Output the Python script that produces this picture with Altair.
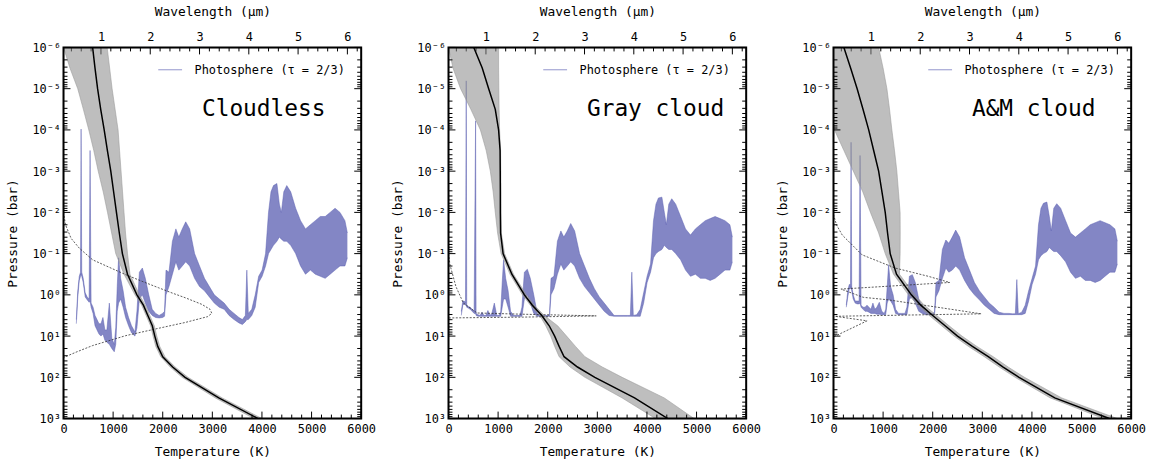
import altair as alt
import pandas as pd

FONT = "DejaVu Sans Mono"
BLUE = "#5a5eb2"
W, H = 300, 374
LABEL = "Photosphere (τ = 2/3)"
TITLES = ["Cloudless", "Gray cloud", "A&M cloud"]

# ---- axis ticks -------------------------------------------------------
T_MAJOR = [0, 1000, 2000, 3000, 4000, 5000, 6000]
T_MINOR = [t for t in range(200, 6000, 200) if t % 1000]
WL_MAJOR = [1, 2, 3, 4, 5, 6]
WL_MINOR = [0.4, 0.6, 0.8, 1.2, 1.4, 1.6, 1.8, 2.2, 2.4, 2.6, 2.8, 3.2, 3.4, 3.6, 3.8,
            4.2, 4.4, 4.6, 4.8, 5.2, 5.4, 5.6, 5.8, 6.2]
P_MAJOR = [1e-6, 1e-5, 1e-4, 1e-3, 1e-2, 1e-1, 1e0, 1e1, 1e2, 1e3]
P_MINOR = [m * 10.0 ** e for e in range(-6, 3) for m in range(2, 10)]
WL_DOMAIN = [0.24, 6.28]

# ---- temperature-pressure profiles (log10 pressure grid, T in K) -------
P_EXP = [-6, -5.5, -5, -4.5, -4, -3.5, -3, -2.5, -2, -1.5, -1, -0.5,
         0, 0.25, 0.5, 0.75, 1.0, 1.25, 1.5, 1.75, 2.0, 2.5, 3.0]

MED_1 = [587, 635, 687, 750, 820, 885, 953, 1010, 1067, 1125, 1187, 1290,
         1480, 1610, 1700, 1790, 1840, 1900, 2000, 2200, 2450, 3130, 3920]
LO_1 = [0, 130, 287, 400, 510, 610, 700, 800, 887, 970, 1053, 1220,
        1440, 1575, 1665, 1755, 1805, 1860, 1960, 2150, 2390, 3060, 3840]
HI_1 = [880, 930, 980, 1040, 1100, 1130, 1160, 1190, 1220, 1250, 1290, 1340,
        1530, 1650, 1740, 1830, 1880, 1940, 2045, 2250, 2510, 3200, 4000]

MED_2 = [510, 680, 810, 943, 1010, 1040, 1043, 1045, 1045, 1050, 1100, 1277,
         1530, 1690, 1880, 2030, 2140, 2230, 2330, 2600, 2950, 3750, 4420]
LO_2 = [0, 90, 243, 450, 643, 760, 843, 900, 943, 990, 1060, 1240,
        1490, 1650, 1840, 1960, 2060, 2140, 2230, 2450, 2750, 3500, 4170]
HI_2 = [1010, 1010, 1015, 1020, 1030, 1050, 1055, 1058, 1060, 1065, 1130, 1310,
        1570, 1730, 1930, 2200, 2380, 2560, 2750, 3100, 3500, 4350, 4950]

MED_3 = [210, 345, 477, 595, 710, 810, 910, 977, 1043, 1090, 1143, 1270,
         1570, 1760, 2000, 2250, 2500, 2800, 3120, 3420, 3740, 4460, 5560]
LO_3 = [0, 0, 0, 0, 20, 210, 400, 590, 745, 910, 1043, 1210,
        1510, 1700, 1930, 2180, 2430, 2720, 3040, 3340, 3660, 4370, 5440]
HI_3 = [910, 1000, 1077, 1130, 1177, 1230, 1277, 1310, 1343, 1345, 1343, 1330,
        1640, 1830, 2080, 2330, 2590, 2890, 3220, 3520, 3850, 4600, 5720]

# ---- dotted cloud curves: (T [K], log10 P) in drawing order -----------
DASH_1 = [(0, -2.0), (40, -1.7), (153, -1.37), (320, -1.13), (587, -0.85), (900, -0.68),
          (1253, -0.49), (1600, -0.32), (1920, -0.17), (2200, -0.04), (2453, 0.07),
          (2787, 0.23), (2953, 0.35), (2990, 0.45), (2900, 0.53), (2453, 0.67),
          (1920, 0.81), (1253, 0.99), (587, 1.23), (253, 1.39), (0, 1.52)]
DASH_2 = [(0, -1.0), (30, -0.73), (150, -0.2), (300, 0.2), (577, 0.44), (1500, 0.47),
          (2977, 0.51), (1500, 0.54), (0, 0.56)]
DASH_3 = [(0, -1.95), (60, -1.7), (177, -1.45), (577, -0.97), (1243, -0.65), (1910, -0.45),
          (2343, -0.30), (150, -0.14), (600, 0.06), (1100, 0.12), (2977, 0.46), (30, 0.52),
          (677, 0.63), (0, 1.02)]

# ---- photosphere: (wavelength [um], upper log10 P, lower log10 P) ------
BLUE_1 = [
    (0.50, 0.60, 0.70), (0.53, -0.10, 0.05), (0.56, -0.45, -0.35), (0.585, -0.55, -0.45),
    (0.597, -4.02, -0.50), (0.61, -0.55, -0.45), (0.64, -0.40, -0.30), (0.68, -0.05, 0.05),
    (0.72, 0.05, 0.12), (0.76, 0.10, 0.18), (0.779, -3.50, 0.15), (0.80, 0.20, 0.30),
    (0.84, 0.30, 0.45), (0.88, 0.50, 0.75), (0.92, 0.60, 0.85), (0.96, 0.70, 0.95),
    (1.00, 0.70, 1.00), (1.04, 0.55, 0.95), (1.08, 0.85, 1.10), (1.12, 0.85, 1.15),
    (1.17, 0.20, 1.20), (1.22, 1.05, 1.30), (1.27, 1.20, 1.38), (1.30, 0.80, 1.20),
    (1.33, -0.20, 0.40), (1.358, -0.90, 0.20), (1.40, -0.40, 0.10), (1.45, -0.10, 0.30),
    (1.50, 0.30, 0.55), (1.56, 0.55, 0.75), (1.62, 0.75, 0.92), (1.69, 0.90, 1.00),
    (1.73, 0.40, 0.80), (1.78, -0.55, 0.10), (1.84, -0.65, 0.00), (1.90, -0.40, 0.20),
    (1.97, 0.00, 0.40), (2.04, 0.35, 0.50), (2.11, 0.45, 0.55), (2.18, 0.50, 0.56),
    (2.25, 0.45, 0.55), (2.29, 0.40, 0.52), (2.32, -0.60, 0.00), (2.38, -0.55, -0.20),
    (2.45, -1.30, -0.50), (2.52, -1.60, -0.80), (2.58, -1.40, -0.60), (2.65, -1.60, -0.70),
    (2.72, -1.77, -0.80), (2.80, -1.60, -0.70), (2.90, -1.00, -0.40), (3.00, -0.70, -0.20),
    (3.10, -0.40, -0.10), (3.20, -0.20, 0.05), (3.30, 0.00, 0.20), (3.40, 0.10, 0.30),
    (3.50, 0.20, 0.35), (3.60, 0.35, 0.50), (3.70, 0.45, 0.60), (3.80, 0.55, 0.68),
    (3.87, 0.60, 0.72), (3.93, 0.50, 0.65), (3.96, -0.60, 0.60), (3.99, 0.45, 0.60),
    (4.06, 0.35, 0.50), (4.13, 0.00, 0.30), (4.20, -0.45, -0.30), (4.27, -0.60, -0.45),
    (4.34, -1.00, -0.70), (4.40, -2.00, -1.00), (4.45, -2.50, -1.10), (4.50, -2.65, -1.20),
    (4.57, -2.70, -1.30), (4.62, -2.20, -1.40), (4.66, -2.00, -1.35), (4.71, -2.50, -1.30),
    (4.77, -2.65, -1.30), (4.85, -2.50, -1.20), (4.95, -2.10, -1.00), (5.05, -1.80, -0.70),
    (5.15, -1.60, -0.50), (5.25, -1.70, -0.60), (5.35, -1.80, -0.50), (5.45, -1.90, -0.45),
    (5.55, -1.90, -0.40), (5.65, -2.00, -0.50), (5.75, -2.10, -0.60), (5.85, -2.00, -0.70),
    (5.95, -1.80, -0.70), (6.00, -1.50, -0.90)]

BLUE_2 = [
    (0.50, 0.40, 0.50), (0.53, 0.15, 0.25), (0.56, 0.15, 0.22), (0.585, 0.20, 0.25),
    (0.60, -5.19, 0.25), (0.61, 0.25, 0.30), (0.64, 0.28, 0.32), (0.68, 0.30, 0.35),
    (0.72, 0.35, 0.40), (0.76, 0.40, 0.45), (0.79, -4.22, 0.45), (0.80, 0.45, 0.50),
    (0.84, 0.48, 0.52), (0.88, 0.50, 0.52), (0.92, 0.42, 0.52), (0.96, 0.50, 0.52),
    (1.00, 0.50, 0.52), (1.04, 0.38, 0.52), (1.08, 0.50, 0.52), (1.12, 0.45, 0.52),
    (1.17, 0.20, 0.52), (1.22, 0.50, 0.52), (1.27, 0.50, 0.52), (1.30, 0.40, 0.52),
    (1.33, -0.30, 0.30), (1.358, -0.85, 0.10), (1.40, -0.40, 0.10), (1.45, -0.10, 0.30),
    (1.50, 0.40, 0.52), (1.56, 0.50, 0.52), (1.62, 0.50, 0.52), (1.69, 0.50, 0.52),
    (1.73, 0.30, 0.52), (1.78, -0.55, 0.10), (1.84, -0.62, 0.00), (1.90, -0.40, 0.20),
    (1.97, 0.00, 0.45), (2.04, 0.45, 0.52), (2.11, 0.50, 0.52), (2.18, 0.50, 0.52),
    (2.25, 0.50, 0.52), (2.29, 0.48, 0.52), (2.32, -0.40, 0.00), (2.38, -0.45, -0.15),
    (2.45, -1.30, -0.50), (2.52, -1.55, -0.75), (2.58, -1.40, -0.60), (2.65, -1.55, -0.70),
    (2.72, -1.73, -0.80), (2.80, -1.55, -0.70), (2.90, -1.00, -0.40), (3.00, -0.70, -0.20),
    (3.10, -0.40, -0.05), (3.20, -0.15, 0.10), (3.30, 0.05, 0.25), (3.40, 0.20, 0.40),
    (3.50, 0.35, 0.50), (3.60, 0.50, 0.52), (3.70, 0.50, 0.52), (3.80, 0.50, 0.52),
    (3.87, 0.50, 0.52), (3.93, 0.50, 0.52), (3.96, -0.55, 0.52), (3.99, 0.50, 0.52),
    (4.06, 0.48, 0.52), (4.13, 0.35, 0.52), (4.20, -0.05, 0.20), (4.27, -0.45, -0.30),
    (4.34, -0.75, -0.55), (4.40, -1.80, -0.90), (4.45, -2.20, -1.00), (4.50, -2.35, -1.05),
    (4.57, -2.37, -1.10), (4.62, -2.00, -1.20), (4.66, -1.70, -1.15), (4.71, -2.20, -1.10),
    (4.77, -2.33, -1.10), (4.85, -2.20, -1.00), (4.95, -1.90, -0.85), (5.05, -1.60, -0.60),
    (5.15, -1.45, -0.45), (5.25, -1.60, -0.50), (5.35, -1.70, -0.40), (5.45, -1.80, -0.40),
    (5.55, -1.85, -0.35), (5.65, -1.90, -0.40), (5.75, -1.85, -0.50), (5.85, -1.80, -0.60),
    (5.95, -1.70, -0.60), (6.00, -1.40, -0.80)]

BLUE_3 = [
    (0.50, 0.25, 0.30), (0.53, -0.10, 0.05), (0.56, -0.25, -0.15), (0.585, -0.25, -0.15),
    (0.597, -3.70, -0.20), (0.61, -0.20, -0.10), (0.64, 0.00, 0.10), (0.68, 0.15, 0.20),
    (0.72, 0.15, 0.22), (0.76, 0.15, 0.22), (0.779, -3.38, 0.20), (0.80, 0.25, 0.30),
    (0.84, 0.30, 0.35), (0.88, 0.30, 0.40), (0.92, 0.25, 0.40), (0.96, 0.30, 0.42),
    (1.00, 0.35, 0.45), (1.04, 0.20, 0.45), (1.08, 0.35, 0.45), (1.12, 0.30, 0.47),
    (1.17, 0.18, 0.47), (1.22, 0.40, 0.48), (1.27, 0.45, 0.48), (1.30, 0.35, 0.48),
    (1.33, -0.20, 0.20), (1.358, -0.73, 0.10), (1.40, -0.20, 0.15), (1.45, 0.00, 0.25),
    (1.50, 0.35, 0.45), (1.56, 0.45, 0.48), (1.62, 0.45, 0.48), (1.69, 0.45, 0.48),
    (1.73, 0.30, 0.48), (1.78, -0.45, 0.10), (1.84, -0.49, 0.05), (1.90, -0.30, 0.20),
    (1.97, 0.10, 0.40), (2.04, 0.30, 0.45), (2.11, 0.40, 0.48), (2.18, 0.45, 0.48),
    (2.25, 0.45, 0.48), (2.29, 0.42, 0.48), (2.32, -0.30, 0.05), (2.38, -0.35, -0.10),
    (2.45, -1.10, -0.40), (2.52, -1.33, -0.65), (2.58, -1.25, -0.55), (2.65, -1.40, -0.60),
    (2.72, -1.57, -0.70), (2.80, -1.40, -0.60), (2.90, -0.90, -0.35), (3.00, -0.60, -0.15),
    (3.10, -0.30, 0.00), (3.20, -0.10, 0.12), (3.30, 0.05, 0.25), (3.40, 0.20, 0.35),
    (3.50, 0.30, 0.45), (3.60, 0.42, 0.48), (3.70, 0.45, 0.48), (3.80, 0.45, 0.48),
    (3.87, 0.46, 0.48), (3.93, 0.46, 0.48), (3.96, -0.37, 0.48), (3.99, 0.46, 0.48),
    (4.06, 0.42, 0.48), (4.13, 0.25, 0.45), (4.20, -0.10, 0.15), (4.27, -0.40, -0.25),
    (4.34, -0.70, -0.50), (4.40, -1.70, -0.85), (4.45, -2.10, -0.95), (4.50, -2.22, -1.00),
    (4.57, -2.25, -1.05), (4.62, -1.90, -1.15), (4.66, -1.55, -1.10), (4.71, -2.10, -1.05),
    (4.77, -2.21, -1.05), (4.85, -2.10, -0.95), (4.95, -1.80, -0.80), (5.05, -1.50, -0.55),
    (5.15, -1.40, -0.40), (5.25, -1.50, -0.45), (5.35, -1.60, -0.35), (5.45, -1.70, -0.35),
    (5.55, -1.75, -0.30), (5.65, -1.80, -0.35), (5.75, -1.75, -0.45), (5.85, -1.70, -0.55),
    (5.95, -1.60, -0.55), (6.00, -1.30, -0.75)]

SUP = "['⁻⁶','⁻⁵','⁻⁴','⁻³','⁻²','⁻¹','⁰','¹','²','³']"


def make_panel(title, med, lo, hi, dash, blue):
    XS = alt.Scale(domain=[0, 6000], nice=False, zero=False)
    WS = alt.Scale(domain=WL_DOMAIN, nice=False, zero=False)
    YS = alt.Scale(type="log", domain=[1e-6, 1e3], reverse=True, nice=False)

    prof = pd.DataFrame({"p": [10.0 ** e for e in P_EXP], "med": med, "lo": lo, "hi": hi})
    dsh = pd.DataFrame(dash, columns=["t", "e"])
    dsh["p"] = 10.0 ** dsh["e"]
    dsh["i"] = range(len(dsh))
    bl = pd.DataFrame(blue, columns=["wl", "top", "bot"])
    bl["ptop"] = 10.0 ** bl["top"]
    bl["pbot"] = 10.0 ** bl["bot"]
    bl["label"] = LABEL

    y_axis = alt.Axis(values=P_MAJOR, title="Pressure (bar)", ticks=False, domain=False, grid=False,
                      labelExpr="'10' + " + SUP + "[round(log(datum.value)/LN10) + 6]",
                      labelFont=FONT, labelFontSize=12, labelColor="black", labelPadding=3,
                      titleFont=FONT, titleFontSize=13, titleFontWeight="normal", titleColor="black",
                      titlePadding=12, labelOverlap=False)
    x_axis = alt.Axis(values=T_MAJOR, title="Temperature (K)", orient="bottom", format="d",
                      ticks=False, domain=False, grid=False, labelFlush=False, labelOverlap=False,
                      labelFont=FONT, labelFontSize=12, labelColor="black", labelPadding=5,
                      titleFont=FONT, titleFontSize=13, titleFontWeight="normal", titleColor="black",
                      titlePadding=11)
    w_axis = alt.Axis(values=WL_MAJOR, title="Wavelength (µm)", orient="top", format="d",
                      ticks=False, domain=False, grid=False, labelFlush=False, labelOverlap=False,
                      labelFont=FONT, labelFontSize=12, labelColor="black", labelPadding=4,
                      titleFont=FONT, titleFontSize=13, titleFontWeight="normal", titleColor="black",
                      titlePadding=12)

    base = alt.Chart(prof)
    band = base.mark_area(orient="horizontal", color="#888888", opacity=0.55, clip=True).encode(
        y=alt.Y("p:Q", scale=YS, axis=y_axis),
        x=alt.X("lo:Q", scale=XS, axis=x_axis),
        x2="hi:Q")
    lo_line = base.mark_line(color="#999999", strokeWidth=0.7, opacity=0.8, clip=True).encode(
        y=alt.Y("p:Q", scale=YS), x=alt.X("lo:Q", scale=XS), order="p:Q")
    hi_line = base.mark_line(color="#999999", strokeWidth=0.7, opacity=0.8, clip=True).encode(
        y=alt.Y("p:Q", scale=YS), x=alt.X("hi:Q", scale=XS), order="p:Q")
    med_line = base.mark_line(color="black", strokeWidth=1.5, clip=True).encode(
        y=alt.Y("p:Q", scale=YS), x=alt.X("med:Q", scale=XS), order="p:Q")
    dashed = alt.Chart(dsh).mark_line(color="#333333", strokeWidth=0.8, strokeDash=[2, 1.5],
                                      clip=True).encode(
        y=alt.Y("p:Q", scale=YS), x=alt.X("t:Q", scale=XS), order="i:Q")

    def yticks(vals, length, right):
        x0, x1 = (W - length, W) if right else (0, length)
        return alt.Chart(pd.DataFrame({"p": vals})).mark_rule(color="black", strokeWidth=1).encode(
            y=alt.Y("p:Q", scale=YS), x=alt.value(x0), x2=alt.value(x1))

    def xticks(vals, length):
        return alt.Chart(pd.DataFrame({"t": vals})).mark_rule(color="black", strokeWidth=1).encode(
            x=alt.X("t:Q", scale=XS), y=alt.value(H - length), y2=alt.value(H))

    def wticks(vals, length):
        return alt.Chart(pd.DataFrame({"w": vals})).mark_rule(color="black", strokeWidth=1).encode(
            x=alt.X("w:Q", scale=WS), y=alt.value(0), y2=alt.value(length))

    label = alt.Chart(pd.DataFrame({"s": [title]})).mark_text(
        align="left", baseline="alphabetic", font=FONT, fontSize=23, color="black").encode(
        text="s:N", x=alt.value(139.5), y=alt.value(69))

    frame = alt.Chart(pd.DataFrame({"s": [title]})).mark_rect(
        fill=None, stroke="black", strokeWidth=2).encode(
        x=alt.value(0), x2=alt.value(W), y=alt.value(0), y2=alt.value(H))

    tp = alt.layer(band, lo_line, hi_line, dashed, med_line,
                   yticks(P_MAJOR, 7, False), yticks(P_MINOR, 4, False),
                   yticks(P_MAJOR, 7, True), yticks(P_MINOR, 4, True),
                   xticks(T_MAJOR, 7), xticks(T_MINOR, 4), label, frame)

    bbase = alt.Chart(bl)
    b_area = bbase.mark_area(color=BLUE, opacity=0.75, clip=True).encode(
        x=alt.X("wl:Q", scale=WS, axis=w_axis),
        y=alt.Y("ptop:Q", scale=YS), y2="pbot:Q")
    b_top = bbase.mark_line(strokeWidth=0.8, opacity=0.6, clip=True).encode(
        x=alt.X("wl:Q", scale=WS),
        y=alt.Y("ptop:Q", scale=YS),
        color=alt.Color("label:N", scale=alt.Scale(range=[BLUE]),
                        legend=alt.Legend(title=None, orient="none", legendX=95, legendY=10,
                                          padding=0, symbolType="stroke", symbolSize=576,
                                          symbolStrokeWidth=1, symbolStrokeColor=BLUE,
                                          symbolOpacity=0.65, labelFont=FONT, labelFontSize=12,
                                          labelColor="black", labelOffset=12)))
    b_bot = bbase.mark_line(color=BLUE, strokeWidth=0.8, opacity=0.6, clip=True).encode(
        x=alt.X("wl:Q", scale=WS),
        y=alt.Y("pbot:Q", scale=YS))
    wl = alt.layer(b_area, b_top, b_bot, wticks(WL_MAJOR, 7), wticks(WL_MINOR, 4))

    return alt.layer(wl, tp).resolve_scale(x="independent").properties(width=W, height=H)


p1 = make_panel(TITLES[0], MED_1, LO_1, HI_1, DASH_1, BLUE_1)
p2 = make_panel(TITLES[1], MED_2, LO_2, HI_2, DASH_2, BLUE_2)
p3 = make_panel(TITLES[2], MED_3, LO_3, HI_3, DASH_3, BLUE_3)

chart = alt.hconcat(p1, p2, p3, spacing=15).resolve_scale(color="independent").properties(
    padding={"left": 6, "top": 3, "right": 5, "bottom": 5}
).configure_view(stroke="black", strokeWidth=2).configure(background="white")

chart.save("out.html", embed_options={"renderer": "svg", "actions": False})
